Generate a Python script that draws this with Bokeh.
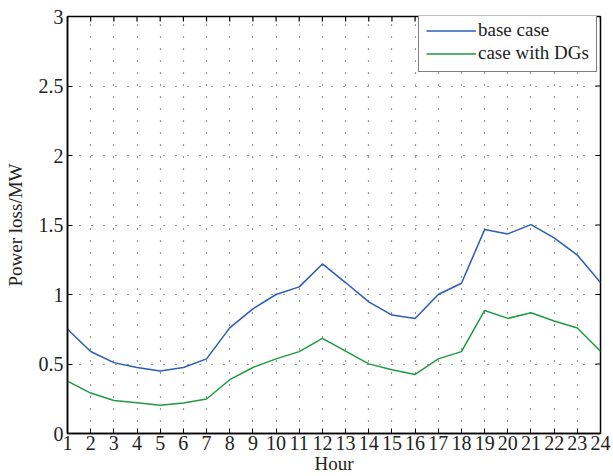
from bokeh.plotting import figure
from bokeh.models import FixedTicker, Range1d, Legend, LegendItem
from bokeh.embed import file_html
from bokeh.resources import INLINE

# Hourly power loss (MW)
hours = list(range(1, 25))
base_case = [0.75, 0.59, 0.51, 0.475, 0.45, 0.475, 0.537, 0.76, 0.897, 1.0, 1.055, 1.22,
             1.086, 0.947, 0.852, 0.828, 1.0, 1.081, 1.467, 1.436, 1.503, 1.408, 1.284, 1.086]
with_dgs = [0.377, 0.291, 0.238, 0.222, 0.203, 0.22, 0.248, 0.387, 0.475, 0.537, 0.589, 0.685,
            0.592, 0.501, 0.458, 0.425, 0.537, 0.589, 0.885, 0.828, 0.869, 0.809, 0.759, 0.592]

y_ticks = [0, 0.5, 1, 1.5, 2, 2.5, 3]
y_tick_labels = ["0", "0.5", "1", "1.5", "2", "2.5", "3"]
series_names = ["base case", "case with DGs"]

FONT = "Liberation Serif"
TICK_SIZE = "20px"
X0, X1, Y0, Y1 = 1, 24, 0, 3
W, H = 613, 476
BL, BR, BT, BB = 67, 13, 16, 41

p = figure(width=W, height=H, output_backend="svg", toolbar_location=None,
           x_range=Range1d(X0, X1), y_range=Range1d(Y0, Y1),
           min_border_left=BL, min_border_right=BR, min_border_top=BT, min_border_bottom=BB)
p.background_fill_color = "white"
p.border_fill_color = "white"
p.outline_line_color = "black"
p.outline_line_width = 1.5

r1 = p.line(hours, base_case, line_color="#2a5cb8", line_width=1.5)
r2 = p.line(hours, with_dgs, line_color="#1e9a40", line_width=1.5)

xt = FixedTicker(ticks=hours)
yt = FixedTicker(ticks=y_ticks)

for ax in (p.xaxis[0], p.yaxis[0]):
    ax.major_tick_in = 5
    ax.major_tick_out = 0
    ax.minor_tick_line_color = None
    ax.axis_line_width = 1.5
    ax.axis_line_color = "black"
    ax.major_tick_line_color = "black"
    ax.major_label_text_font = FONT
    ax.major_label_text_font_size = TICK_SIZE
    ax.major_label_text_color = "#222222"
    ax.axis_label_text_font = FONT
    ax.axis_label_text_font_size = "19px"
    ax.axis_label_text_font_style = "normal"
    ax.axis_label_text_color = "#222222"

p.xaxis[0].ticker = xt
p.yaxis[0].ticker = yt
p.yaxis[0].major_label_overrides = {t: s for t, s in zip(y_ticks, y_tick_labels)}
p.xaxis[0].axis_label = "Hour"
p.yaxis[0].axis_label = "Power loss/MW"
p.xaxis[0].major_label_standoff = 2
p.xaxis[0].axis_label_standoff = 0
p.yaxis[0].major_label_standoff = 4
p.yaxis[0].axis_label_standoff = 10

# Inward ticks along the top and right edges of the box (5 px long)
tick_px = 5
dy = tick_px * (Y1 - Y0) / (H - BT - BB)
dx = tick_px * (X1 - X0) / (W - BL - BR)
p.segment(x0=hours, y0=[Y1] * len(hours), x1=hours, y1=[Y1 - dy] * len(hours),
          line_color="black", line_width=1.2)
p.segment(x0=[X1] * len(y_ticks), y0=y_ticks, x1=[X1 - dx] * len(y_ticks), y1=y_ticks,
          line_color="black", line_width=1.2)

p.xgrid.ticker = xt
p.ygrid.ticker = yt
for g in (p.xgrid, p.ygrid):
    g.grid_line_color = "#333333"
    g.grid_line_dash = "1 11"
    g.grid_line_width = 1.2

legend = Legend(items=[LegendItem(label=series_names[0], renderers=[r1]),
                       LegendItem(label=series_names[1], renderers=[r2])],
                location=(351, 361), margin=0, padding=7, spacing=1,
                glyph_width=50, glyph_height=17, label_height=17, label_standoff=2,
                label_text_font=FONT, label_text_font_size="19px",
                label_text_color="#222222",
                border_line_color="black", border_line_width=1.5,
                background_fill_color="white", background_fill_alpha=1)
p.add_layout(legend, "center")

open("out.html", "w").write(file_html(p, INLINE))
